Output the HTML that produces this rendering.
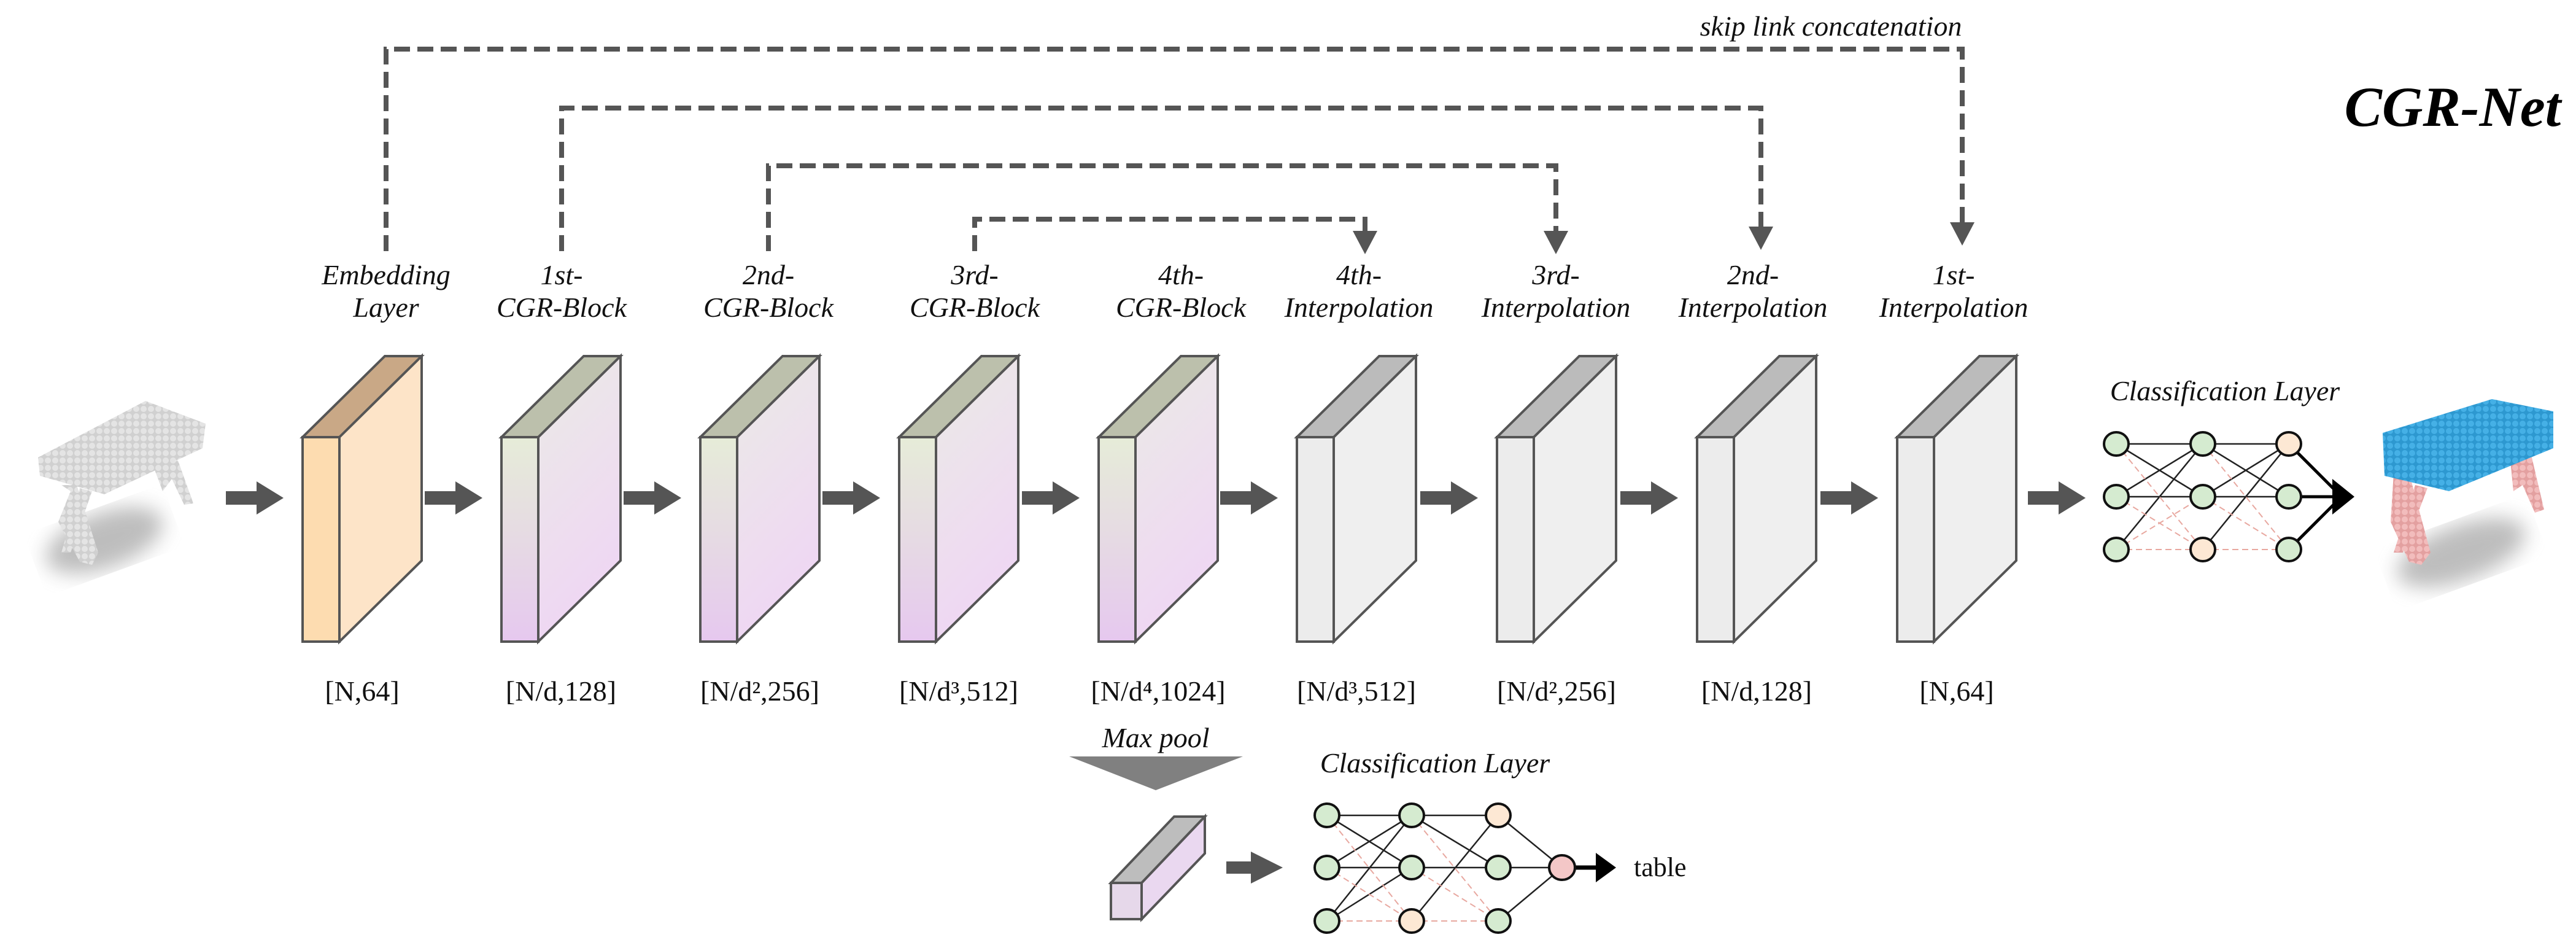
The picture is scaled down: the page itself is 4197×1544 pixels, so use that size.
<!DOCTYPE html>
<html><head><meta charset="utf-8"><style>html,body{margin:0;padding:0;background:#fff}svg{display:block}</style></head>
<body>
<svg width="4197" height="1544" viewBox="0 0 4197 1544" xmlns="http://www.w3.org/2000/svg">
<defs>
<linearGradient id="cf" x1="0" y1="0" x2="0" y2="1"><stop offset="0" stop-color="#e6ecd8"/><stop offset="1" stop-color="#e6c8ef"/></linearGradient>
<linearGradient id="cr" x1="0" y1="0" x2="0.3" y2="1"><stop offset="0" stop-color="#ebebe6"/><stop offset="1" stop-color="#efd6f4"/></linearGradient>
<filter id="bl"><feGaussianBlur stdDeviation="16"/></filter>
<pattern id="gdots" width="12" height="12" patternUnits="userSpaceOnUse"><rect width="12" height="12" fill="#d0d0d0"/><circle cx="6" cy="6" r="5" fill="#e4e4e4"/></pattern>
<pattern id="bdots" width="12" height="12" patternUnits="userSpaceOnUse"><rect width="12" height="12" fill="#2d98d0"/><circle cx="6" cy="6" r="5" fill="#45b0e6"/></pattern>
<pattern id="pdots" width="12" height="12" patternUnits="userSpaceOnUse"><rect width="12" height="12" fill="#e3a0a0"/><circle cx="6" cy="6" r="5" fill="#f2bcbc"/></pattern>
<g id="cgr">
<rect x="0" y="712" width="60" height="333" fill="url(#cf)" stroke="#555" stroke-width="4"/>
<polygon points="0,712 60,712 194,580 134,580" fill="#bcc0ac" stroke="#555" stroke-width="4"/>
<polygon points="60,712 194,580 194,913 60,1045" fill="url(#cr)" stroke="#555" stroke-width="4"/>
</g>
<g id="itp">
<rect x="0" y="712" width="60" height="333" fill="#ececec" stroke="#555" stroke-width="4"/>
<polygon points="0,712 60,712 194,580 134,580" fill="#bbbbbb" stroke="#555" stroke-width="4"/>
<polygon points="60,712 194,580 194,913 60,1045" fill="#efefef" stroke="#555" stroke-width="4"/>
</g>
<g id="arr"><polygon points="0,800 50,800 50,784 94,811 50,838 50,822 0,822" fill="#555"/></g>
<g id="dh"><polygon points="-20,-38 20,-38 0,0" fill="#555"/></g>
</defs>

<!-- skip links -->
<g fill="none" stroke="#555" stroke-width="8" stroke-dasharray="26 12">
<polyline points="629,409 629,80 3197,80 3197,365"/>
<polyline points="915,409 915,176 2869,176 2869,372"/>
<polyline points="1252,409 1252,270 2535,270 2535,380"/>
<polyline points="1588,409 1588,357 2224,357 2224,380"/>
</g>
<use href="#dh" x="3197" y="400"/>
<use href="#dh" x="2869" y="407"/>
<use href="#dh" x="2535" y="414"/>
<use href="#dh" x="2224" y="414"/>

<g font-family="'Liberation Serif', serif" font-style="italic" font-size="46" fill="#111" text-anchor="middle">
<text x="2983" y="58">skip link concatenation</text>
<text x="629" y="463">Embedding</text><text x="629" y="516">Layer</text>
<text x="915" y="463">1st-</text><text x="915" y="516">CGR-Block</text>
<text x="1252" y="463">2nd-</text><text x="1252" y="516">CGR-Block</text>
<text x="1588" y="463">3rd-</text><text x="1588" y="516">CGR-Block</text>
<text x="1924" y="463">4th-</text><text x="1924" y="516">CGR-Block</text>
<text x="2214" y="463">4th-</text><text x="2214" y="516">Interpolation</text>
<text x="2535" y="463">3rd-</text><text x="2535" y="516">Interpolation</text>
<text x="2856" y="463">2nd-</text><text x="2856" y="516">Interpolation</text>
<text x="3183" y="463">1st-</text><text x="3183" y="516">Interpolation</text>
<text x="3625" y="652">Classification Layer</text>
<text x="1883" y="1217">Max pool</text>
<text x="2338" y="1258">Classification Layer</text>
</g>
<text x="3996" y="205" font-family="'Liberation Serif', serif" font-style="italic" font-weight="bold" font-size="92" text-anchor="middle" fill="#000">CGR-Net</text>

<!-- embedding block -->
<rect x="493" y="712" width="60" height="333" fill="#fddcb0" stroke="#555" stroke-width="4"/>
<polygon points="493,712 553,712 687,580 627,580" fill="#c9a886" stroke="#555" stroke-width="4"/>
<polygon points="553,712 687,580 687,913 553,1045" fill="#fde4c8" stroke="#555" stroke-width="4"/>

<use href="#cgr" x="817"/><use href="#cgr" x="1141"/><use href="#cgr" x="1465"/><use href="#cgr" x="1790"/>
<use href="#itp" x="2113"/><use href="#itp" x="2439"/><use href="#itp" x="2765"/><use href="#itp" x="3091"/>

<use href="#arr" x="368"/><use href="#arr" x="692"/><use href="#arr" x="1016"/><use href="#arr" x="1340"/>
<use href="#arr" x="1665"/><use href="#arr" x="1988"/><use href="#arr" x="2314"/><use href="#arr" x="2640"/>
<use href="#arr" x="2966"/><use href="#arr" x="3304"/>

<g font-family="'Liberation Serif', serif" font-size="46" fill="#111" text-anchor="middle">
<text x="590" y="1141">[N,64]</text>
<text x="914" y="1141">[N/d,128]</text>
<text x="1238" y="1141">[N/d²,256]</text>
<text x="1562" y="1141">[N/d³,512]</text>
<text x="1887" y="1141">[N/d⁴,1024]</text>
<text x="2210" y="1141">[N/d³,512]</text>
<text x="2536" y="1141">[N/d²,256]</text>
<text x="2862" y="1141">[N/d,128]</text>
<text x="3188" y="1141">[N,64]</text>
<text x="2662" y="1427" text-anchor="start" font-size="44">table</text>
</g>

<!-- left point cloud -->
<ellipse cx="170" cy="880" rx="100" ry="45" fill="#888" opacity="0.55" filter="url(#bl)" transform="rotate(-20 170 880)"/>
<g fill="url(#gdots)">
<polygon points="62,745 237,653 335,690 330,730 170,805 65,775"/>
<polygon points="100,790 125,790 160,900 150,920 130,915 95,850 115,800"/>
<polygon points="130,795 150,800 115,900 100,900"/>
<polygon points="250,760 290,750 315,820 300,822 280,780 265,800"/>
</g>
<!-- right point cloud -->
<ellipse cx="4010" cy="900" rx="110" ry="45" fill="#888" opacity="0.55" filter="url(#bl)" transform="rotate(-20 4010 900)"/>
<g fill="url(#pdots)">
<polygon points="3900,770 3925,770 3960,900 3945,920 3925,915 3895,850"/>
<polygon points="3935,790 3955,795 3915,900 3900,900"/>
<polygon points="4090,750 4125,745 4145,830 4130,835 4110,790 4095,800"/>
</g>
<polygon points="3882,705 4060,650 4160,670 4160,730 3990,800 3885,775" fill="url(#bdots)"/>

<!-- top NN -->
<g stroke="#222" stroke-width="2.5">
<line x1="3448" y1="723" x2="3589" y2="723"/><line x1="3448" y1="723" x2="3589" y2="809"/>
<line x1="3448" y1="809" x2="3589" y2="723"/><line x1="3448" y1="809" x2="3589" y2="809"/>
<line x1="3448" y1="895" x2="3589" y2="723"/>
<line x1="3589" y1="723" x2="3729" y2="723"/><line x1="3589" y1="723" x2="3729" y2="809"/>
<line x1="3589" y1="809" x2="3729" y2="723"/><line x1="3589" y1="809" x2="3729" y2="809"/>
<line x1="3589" y1="895" x2="3729" y2="723"/>
</g>
<g stroke="#e8a8a0" stroke-width="2" stroke-dasharray="10 6">
<line x1="3448" y1="723" x2="3589" y2="895"/><line x1="3448" y1="809" x2="3589" y2="895"/><line x1="3448" y1="895" x2="3589" y2="895"/><line x1="3448" y1="895" x2="3589" y2="809"/>
<line x1="3589" y1="723" x2="3729" y2="895"/><line x1="3589" y1="809" x2="3729" y2="895"/><line x1="3589" y1="895" x2="3729" y2="895"/>
</g>
<g stroke="#000" stroke-width="5"><line x1="3729" y1="723" x2="3815" y2="809"/><line x1="3729" y1="809" x2="3815" y2="809"/><line x1="3729" y1="895" x2="3815" y2="809"/></g>
<polygon points="3800,780 3836,809 3800,838" fill="#000"/>
<g stroke="#111" stroke-width="4">
<ellipse cx="3448" cy="723" rx="20" ry="19" fill="#d5ebd0"/><ellipse cx="3448" cy="809" rx="20" ry="19" fill="#d5ebd0"/><ellipse cx="3448" cy="895" rx="20" ry="19" fill="#d5ebd0"/>
<ellipse cx="3589" cy="723" rx="20" ry="19" fill="#d5ebd0"/><ellipse cx="3589" cy="809" rx="20" ry="19" fill="#d5ebd0"/><ellipse cx="3589" cy="895" rx="20" ry="19" fill="#fde8d4"/>
<ellipse cx="3729" cy="723" rx="20" ry="19" fill="#fde8d4"/><ellipse cx="3729" cy="809" rx="20" ry="19" fill="#d5ebd0"/><ellipse cx="3729" cy="895" rx="20" ry="19" fill="#d5ebd0"/>
</g>

<!-- max pool -->
<polygon points="1742,1232 2025,1232 1883,1287" fill="#808080"/>
<rect x="1810" y="1438" width="50" height="59" fill="#e6d8ea" stroke="#555" stroke-width="4"/>
<polygon points="1810,1438 1860,1438 1963,1330 1913,1330" fill="#bdbdbd" stroke="#555" stroke-width="4"/>
<polygon points="1860,1438 1963,1330 1963,1390 1860,1497" fill="#ead8f0" stroke="#555" stroke-width="4"/>
<polygon points="1998,1403 2038,1403 2038,1387 2090,1413 2038,1439 2038,1423 1998,1423" fill="#555"/>

<!-- bottom NN -->
<g stroke="#222" stroke-width="2.5">
<line x1="2162" y1="1328" x2="2300" y2="1328"/><line x1="2162" y1="1328" x2="2300" y2="1413"/>
<line x1="2162" y1="1413" x2="2300" y2="1328"/><line x1="2162" y1="1413" x2="2300" y2="1413"/>
<line x1="2162" y1="1500" x2="2300" y2="1328"/><line x1="2162" y1="1500" x2="2300" y2="1413"/>
<line x1="2300" y1="1328" x2="2441" y2="1328"/><line x1="2300" y1="1328" x2="2441" y2="1413"/>
<line x1="2300" y1="1413" x2="2441" y2="1413"/><line x1="2300" y1="1500" x2="2441" y2="1328"/>
<line x1="2441" y1="1328" x2="2545" y2="1413"/><line x1="2441" y1="1413" x2="2545" y2="1413"/><line x1="2441" y1="1500" x2="2545" y2="1413"/>
</g>
<g stroke="#e8a8a0" stroke-width="2" stroke-dasharray="10 6">
<line x1="2162" y1="1328" x2="2300" y2="1500"/><line x1="2162" y1="1413" x2="2300" y2="1500"/><line x1="2162" y1="1500" x2="2300" y2="1500"/>
<line x1="2300" y1="1413" x2="2441" y2="1500"/><line x1="2300" y1="1328" x2="2441" y2="1500"/><line x1="2300" y1="1500" x2="2441" y2="1500"/>
</g>
<line x1="2545" y1="1413" x2="2605" y2="1413" stroke="#000" stroke-width="7"/>
<polygon points="2600,1389 2633,1413 2600,1437" fill="#000"/>
<g stroke="#111" stroke-width="4">
<ellipse cx="2162" cy="1328" rx="20" ry="19" fill="#d5ebd0"/><ellipse cx="2162" cy="1413" rx="20" ry="19" fill="#d5ebd0"/><ellipse cx="2162" cy="1500" rx="20" ry="19" fill="#d5ebd0"/>
<ellipse cx="2300" cy="1328" rx="20" ry="19" fill="#d5ebd0"/><ellipse cx="2300" cy="1413" rx="20" ry="19" fill="#d5ebd0"/><ellipse cx="2300" cy="1500" rx="20" ry="19" fill="#fde8d4"/>
<ellipse cx="2441" cy="1328" rx="20" ry="19" fill="#fde8d4"/><ellipse cx="2441" cy="1413" rx="20" ry="19" fill="#d5ebd0"/><ellipse cx="2441" cy="1500" rx="20" ry="19" fill="#d5ebd0"/>
<ellipse cx="2545" cy="1413" rx="21" ry="20" fill="#f4c7c7"/>
</g>
</svg>
</body></html>
